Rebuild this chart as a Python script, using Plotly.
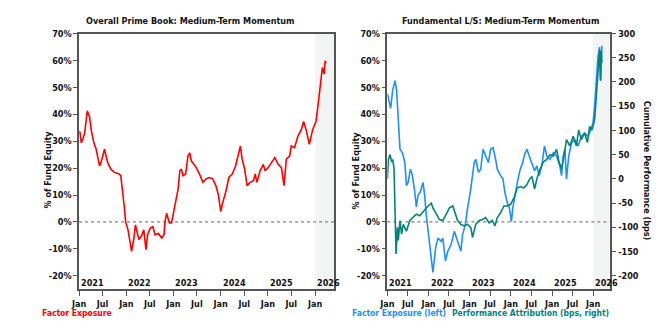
import plotly.graph_objects as go

# Overall Prime Book: medium-term momentum factor exposure (% of fund equity)
prime_dates = [
    "2021-01-06", "2021-01-18", "2021-01-31", "2021-02-13", "2021-03-05", "2021-03-23",
    "2021-04-05", "2021-04-25", "2021-05-13", "2021-06-08", "2021-06-25", "2021-07-16",
    "2021-08-10", "2021-09-04", "2021-09-30", "2021-11-07", "2021-11-19", "2021-12-02",
    "2021-12-15", "2021-12-27", "2022-01-14", "2022-01-29", "2022-02-11", "2022-03-01",
    "2022-03-13", "2022-04-08", "2022-05-03", "2022-05-16", "2022-06-02", "2022-06-15",
    "2022-07-05", "2022-07-26", "2022-08-12", "2022-09-07", "2022-10-02", "2022-10-20",
    "2022-10-27", "2022-11-09", "2022-11-30", "2022-12-17", "2023-01-11", "2023-02-06",
    "2023-02-19", "2023-03-03", "2023-03-16", "2023-04-05", "2023-04-23", "2023-05-06",
    "2023-05-19", "2023-06-26", "2023-07-21", "2023-08-16", "2023-09-10", "2023-10-05",
    "2023-10-31", "2023-11-25", "2023-12-15", "2024-01-02", "2024-01-15", "2024-02-09",
    "2024-03-05", "2024-03-31", "2024-04-25", "2024-05-16", "2024-06-02", "2024-06-15",
    "2024-07-05", "2024-07-23", "2024-08-17", "2024-09-11", "2024-09-24", "2024-10-07",
    "2024-11-01", "2024-11-26", "2024-12-09", "2025-01-03", "2025-01-29", "2025-02-23",
    "2025-03-21", "2025-04-15", "2025-05-05", "2025-05-23", "2025-06-18", "2025-06-30",
    "2025-07-26", "2025-08-20", "2025-09-15", "2025-10-04", "2025-10-23", "2025-11-17",
    "2025-12-12", "2026-01-07", "2026-01-19", "2026-02-01", "2026-02-14", "2026-02-26",
    "2026-03-11", "2026-03-19", "2026-03-26",
]
prime_exposure = [
    33.7, 29.4, 31.0, 33.0, 41.3, 39.0,
    34.0, 29.4, 27.0, 20.8, 23.0, 27.0,
    22.0, 19.6, 18.4, 17.8, 17.2, 12.3,
    6.2, 0.0, -2.9, -7.2, -10.9, -6.0,
    -1.1, -6.6, -4.8, -2.9, -10.3, -4.8,
    -2.3, -1.8, -4.8, -4.3, -6.0, -4.8,
    0.0, 3.2, -0.4, -0.4, 6.2, 12.3,
    19.0, 19.6, 17.2, 17.8, 24.5, 25.7,
    22.7, 20.2, 17.8, 14.7, 16.0, 16.5,
    16.0, 13.5, 9.9, 3.8, 6.8, 11.1,
    16.6, 17.8, 20.8, 24.5, 28.2, 23.3,
    19.6, 13.5, 14.7, 15.3, 17.8, 14.7,
    19.0, 21.4, 19.0, 20.2, 22.0, 23.9,
    21.4, 20.2, 13.5, 23.3, 24.5, 28.2,
    27.6, 31.8, 34.2, 37.3, 34.2, 28.8,
    34.2, 37.3, 41.6, 47.7, 53.8, 57.4,
    55.0, 59.9, 59.0,
]

# Fundamental L/S: factor exposure (% of fund equity, left axis)
fls_dates = [
    "2021-01-01", "2021-01-19", "2021-01-30", "2021-02-17", "2021-03-10", "2021-03-24",
    "2021-04-08", "2021-04-23", "2021-05-15", "2021-06-05", "2021-06-19", "2021-07-04",
    "2021-07-25", "2021-08-11", "2021-09-01", "2021-09-15", "2021-09-30", "2021-10-20",
    "2021-11-13", "2021-11-28", "2021-12-12", "2022-01-05", "2022-01-25", "2022-02-09",
    "2022-03-05", "2022-03-25", "2022-04-23", "2022-05-08", "2022-05-31", "2022-06-21",
    "2022-07-20", "2022-08-18", "2022-09-16", "2022-10-15", "2022-10-30", "2022-11-23",
    "2022-12-13", "2023-01-11", "2023-02-10", "2023-02-24", "2023-03-20", "2023-04-09",
    "2023-04-30", "2023-05-23", "2023-06-16", "2023-07-06", "2023-07-27", "2023-08-19",
    "2023-09-03", "2023-10-02", "2023-10-23", "2023-11-09", "2023-11-29", "2023-12-20",
    "2024-01-06", "2024-01-18", "2024-02-10", "2024-03-05", "2024-03-25", "2024-04-15",
    "2024-05-03", "2024-05-23", "2024-06-12", "2024-07-06", "2024-07-30", "2024-08-19",
    "2024-09-08", "2024-10-02", "2024-10-25", "2024-11-15", "2024-12-14", "2025-01-12",
    "2025-02-10", "2025-03-11", "2025-03-26", "2025-04-10", "2025-04-24", "2025-05-09",
    "2025-05-29", "2025-06-22", "2025-07-21", "2025-08-20", "2025-09-18", "2025-10-17",
    "2025-11-16", "2025-12-09", "2025-12-30", "2026-01-13", "2026-01-28", "2026-02-12",
    "2026-02-26", "2026-03-07", "2026-03-19",
]
fls_exposure = [
    47.7, 44.0, 42.2, 48.9, 52.5, 48.9,
    39.2, 27.0, 25.7, 22.0, 13.5, 14.7,
    19.6, 17.2, 11.1, 5.6, 9.9, 11.1,
    14.7, 9.9, 2.6, -6.0, -12.0, -18.8,
    -9.7, -6.0, -7.2, -6.0, -14.5, -10.9,
    -8.4, -3.5, -7.2, -10.9, -4.8, -1.1,
    5.0, 12.3, 22.0, 23.3, 18.4, 19.6,
    27.0, 24.5, 22.0, 27.0, 27.6, 23.3,
    19.6, 17.2, 16.0, 11.1, 7.4, 5.0,
    0.1, 5.0, 11.1, 16.0, 19.6, 22.0,
    25.1, 27.0, 24.5, 22.0, 19.0, 20.8,
    17.2, 20.8, 28.2, 24.5, 23.3, 25.7,
    24.5, 20.8, 17.2, 24.5, 27.0, 16.0,
    24.5, 29.4, 30.6, 28.2, 31.8, 33.0,
    31.8, 34.2, 36.7, 42.8, 51.3, 61.1,
    65.0, 52.5, 65.5,
]

# Fundamental L/S: cumulative performance attribution (bps, right axis)
perf_dates = [
    "2021-01-01", "2021-01-10", "2021-01-25", "2021-02-08", "2021-02-17", "2021-03-01",
    "2021-03-10", "2021-03-19", "2021-03-31", "2021-04-08", "2021-04-23", "2021-05-07",
    "2021-05-22", "2021-06-19", "2021-07-19", "2021-08-17", "2021-09-15", "2021-10-15",
    "2021-11-13", "2021-12-12", "2022-01-11", "2022-01-25", "2022-02-09", "2022-03-10",
    "2022-04-08", "2022-05-08", "2022-06-06", "2022-07-06", "2022-08-04", "2022-08-27",
    "2022-09-16", "2022-10-15", "2022-11-13", "2022-12-13", "2023-01-11", "2023-01-26",
    "2023-02-24", "2023-03-26", "2023-04-24", "2023-05-23", "2023-06-22", "2023-07-21",
    "2023-08-14", "2023-09-03", "2023-10-02", "2023-11-01", "2023-11-29", "2023-12-29",
    "2024-01-28", "2024-02-26", "2024-03-27", "2024-04-25", "2024-05-23", "2024-06-12",
    "2024-07-06", "2024-07-30", "2024-08-19", "2024-09-17", "2024-10-17", "2024-11-15",
    "2024-12-14", "2025-01-12", "2025-02-10", "2025-03-03", "2025-03-26", "2025-04-19",
    "2025-05-09", "2025-06-07", "2025-07-07", "2025-08-05", "2025-08-25", "2025-09-18",
    "2025-10-17", "2025-11-10", "2025-11-30", "2025-12-21", "2026-01-13", "2026-01-28",
    "2026-02-12", "2026-02-26", "2026-03-07", "2026-03-13", "2026-03-19",
]
perf_bps = [
    0, 40, 50, 35, 40, 21,
    -67, -155, -100, -127, -86, -114,
    -94, -108, -86, -80, -73, -76,
    -67, -60, -53, -50, -60, -73,
    -84, -86, -73, -60, -56, -73,
    -86, -94, -97, -94, -100, -121,
    -94, -86, -84, -80, -91, -86,
    -97, -80, -70, -56, -56, -53,
    -40, -19, -16, -19, -12, -2,
    5, -21, 0, 21, 35, 40,
    50, 47, 61, 35, 21, 50,
    81, 68, 88, 68, 101, 81,
    95, 75, 108, 101, 122, 169,
    216, 267, 203, 264, 240,
]

tick_dates = ["2021-01-01", "2021-07-01", "2022-01-01", "2022-07-01", "2023-01-01",
              "2023-07-01", "2024-01-01", "2024-07-01", "2025-01-01", "2025-07-01",
              "2026-01-01"]
tick_labels = ["Jan", "Jul", "Jan", "Jul", "Jan", "Jul", "Jan", "Jul", "Jan", "Jul", "Jan"]
year_starts = ["2021-01-01", "2022-01-01", "2023-01-01", "2024-01-01", "2025-01-01", "2026-01-01"]
year_labels = ["2021", "2022", "2023", "2024", "2025", "2026"]
pct_ticks = [-20, -10, 0, 10, 20, 30, 40, 50, 60, 70]
pct_labels = ["-20%", "-10%", "0%", "10%", "20%", "30%", "40%", "50%", "60%", "70%"]
bps_ticks = [-200, -150, -100, -50, 0, 50, 100, 150, 200, 250, 300]
bps_labels = ["-200", "-150", "-100", "-50", "0", "50", "100", "150", "200", "250", "300"]

RED = "#ff0000"
BLUE = "#1e8fff"
TEAL = "#00857b"
AXIS = "#555555"
INK = "#111111"
SHADE = "#f2f3f3"
FONT = "DejaVu Sans Condensed, Liberation Sans Narrow, Roboto, sans-serif"
FS = 9
X_RANGE = ["2021-01-01", "2026-05-27"]
SHADE_START = "2026-01-01"


def bold(color=INK, size=FS):
    return dict(family=FONT, size=size, color=color, weight="bold")


fig = go.Figure()
fig.add_trace(go.Scatter(x=prime_dates, y=prime_exposure, mode="lines",
                         line=dict(color=RED, width=1.6), xaxis="x", yaxis="y"))
fig.add_trace(go.Scatter(x=fls_dates, y=fls_exposure, mode="lines",
                         line=dict(color=BLUE, width=1.6), xaxis="x2", yaxis="y2"))
fig.add_trace(go.Scatter(x=perf_dates, y=perf_bps, mode="lines",
                         line=dict(color=TEAL, width=1.6), xaxis="x2", yaxis="y3"))

x_common = dict(range=X_RANGE, tickmode="array", tickvals=tick_dates, ticktext=tick_labels,
                ticks="outside", ticklen=5, tickwidth=1.2, tickcolor=AXIS,
                showline=True, linecolor=AXIS, linewidth=1.5, mirror=True,
                showgrid=False, zeroline=False, tickfont=bold())
y_common = dict(range=[-25, 70], tickmode="array", tickvals=pct_ticks, ticktext=pct_labels,
                ticks="outside", ticklen=4, tickwidth=1.2, tickcolor=AXIS,
                showline=True, linecolor=AXIS, linewidth=1.5, mirror=True,
                showgrid=False, zeroline=False, tickfont=bold())

Y_DOM = [0.1362, 0.9132]
fig.update_layout(
    width=664, height=334, margin=dict(l=0, r=0, t=0, b=0),
    paper_bgcolor="white", plot_bgcolor="white", showlegend=False,
    font=dict(family=FONT),
    xaxis=dict(domain=[0.1084, 0.497], anchor="y", **x_common),
    yaxis=dict(domain=Y_DOM, anchor="x", **y_common),
    xaxis2=dict(domain=[0.5783, 0.9172], anchor="y2", **x_common),
    yaxis2=dict(domain=Y_DOM, anchor="x2", **y_common),
    yaxis3=dict(range=[-227.8, 300], overlaying="y2", side="right", anchor="x2",
                tickmode="array", tickvals=bps_ticks, ticktext=bps_labels,
                ticks="outside", ticklen=5, tickwidth=1.2, tickcolor=AXIS,
                showline=True, linecolor=AXIS, linewidth=1.5, showgrid=False,
                zeroline=False, tickfont=bold()),
)

# shaded latest period and dotted zero lines
for xr, yr in (("x", "y"), ("x2", "y2")):
    fig.add_shape(type="rect", xref=xr, yref=f"{yr} domain", x0=SHADE_START, x1=X_RANGE[1],
                  y0=0, y1=1, fillcolor=SHADE, line=dict(width=0), layer="below")
    fig.add_shape(type="line", xref=f"{xr} domain", yref=yr, x0=0, x1=1, y0=0, y1=0,
                  line=dict(color="#8a7f7f", width=1.3, dash="dot"), layer="below")

annotations = []
for xr in ("x", "x2"):
    for d, lab in zip(year_starts, year_labels):
        annotations.append(dict(x=d, xref=xr, y=1 - 282.5 / 334, yref="paper", text=lab,
                                showarrow=False, xanchor="left", yanchor="middle",
                                font=bold()))


def paper_text(px, py, text, color=INK, angle=0, xanchor="center", size=FS):
    return dict(x=px / 664, y=1 - py / 334, xref="paper", yref="paper", text=text,
                showarrow=False, textangle=angle, xanchor=xanchor, yanchor="middle",
                font=bold(color, size))


annotations += [
    paper_text(185, 16, "Overall Prime Book: Medium-Term Momentum"),
    paper_text(498, 16, "Fundamental L/S: Medium-Term Momentum"),
    paper_text(40, 167.5, "% of Fund Equity", angle=-90),
    paper_text(352.7, 167.5, "% of Fund Equity", angle=-90),
    paper_text(647, 167.5, "Cumulative Performance (bps)", angle=90),
    paper_text(32, 313, "Factor Exposure", RED, xanchor="left", size=8.5),
    paper_text(346, 313, "Factor Exposure (left)", BLUE, xanchor="left", size=8.5),
    paper_text(447, 313, "Performance Attribution (bps, right)", TEAL, xanchor="left", size=8.5),
]
fig.update_layout(annotations=annotations)

fig.write_html("out.html")
